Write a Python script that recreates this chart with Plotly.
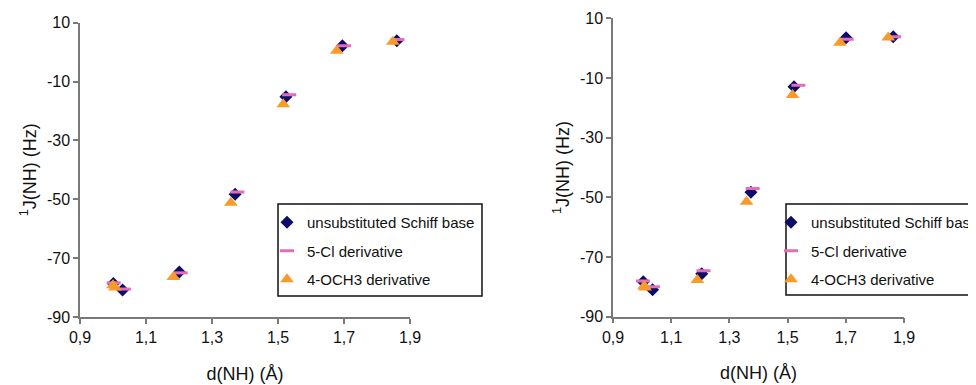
import plotly.graph_objects as go

# ---- data ----
series_names = ["unsubstituted Schiff base", "5-Cl derivative", "4-OCH3 derivative"]

# left panel
left_unsub_x = [1.001, 1.029, 1.201, 1.370, 1.524, 1.695, 1.860]
left_unsub_y = [-78.6, -80.8, -74.7, -48.3, -15.2, 2.2, 3.9]
left_cl_x = [1.002, 1.033, 1.205, 1.377, 1.534, 1.700, 1.862]
left_cl_y = [-78.4, -80.5, -75.0, -47.5, -14.5, 2.2, 4.3]
left_och3_x = [1.000, 1.006, 1.183, 1.357, 1.516, 1.678, 1.848]
left_och3_y = [-79.2, -80.0, -76.4, -51.2, -17.7, 0.5, 3.5]

# right panel
right_unsub_x = [1.004, 1.036, 1.205, 1.374, 1.522, 1.701, 1.863]
right_unsub_y = [-78.3, -81.0, -75.6, -48.3, -12.9, 3.5, 3.8]
right_cl_x = [1.003, 1.037, 1.211, 1.380, 1.537, 1.703, 1.866]
right_cl_y = [-78.0, -80.0, -74.6, -47.0, -12.4, 3.0, 3.8]
right_och3_x = [1.007, 1.010, 1.190, 1.359, 1.517, 1.680, 1.846]
right_och3_y = [-79.7, -80.2, -77.7, -51.5, -15.7, 1.8, 3.6]

x_ticks = [0.9, 1.1, 1.3, 1.5, 1.7, 1.9]
x_tick_labels = ["0,9", "1,1", "1,3", "1,5", "1,7", "1,9"]
y_ticks = [10, -10, -30, -50, -70, -90]
y_tick_labels = ["10", "-10", "-30", "-50", "-70", "-90"]

# ---- styles ----
FONT = "Arial, 'Liberation Sans', sans-serif"
NAVY = "#0c0c6a"
PINK = "#e46cb8"
ORANGE = "#f99b2a"

styles = [
    dict(symbol="diamond", size=10, color=NAVY, line=dict(width=0)),
    dict(symbol="line-ew", size=10, color=PINK, line=dict(width=3, color=PINK)),
    dict(symbol="triangle-up", size=12, color=ORANGE, line=dict(width=0)),
]

fig = go.Figure()

panels = [
    ("x", "y", "legend", [(left_unsub_x, left_unsub_y), (left_cl_x, left_cl_y), (left_och3_x, left_och3_y)]),
    ("x2", "y2", "legend2", [(right_unsub_x, right_unsub_y), (right_cl_x, right_cl_y), (right_och3_x, right_och3_y)]),
]
for xa, ya, lg, data in panels:
    for i, (xs, ys) in enumerate(data):
        fig.add_trace(go.Scatter(
            x=xs, y=ys, mode="markers", name=series_names[i],
            marker=styles[i], xaxis=xa, yaxis=ya, legend=lg,
            legendgroup=f"{lg}_{i}",
        ))

W, H = 976, 385
OFF = 8  # page body margin shifts the figure by 8px

def px_x(a):
    return (a - OFF) / W

def px_y(a):
    return (H - (a - OFF)) / H

def xdom(a, b):
    return [px_x(a), px_x(b)]

def ydom(top, bottom):
    return [px_y(bottom), px_y(top)]

axis_common = dict(
    showline=True, linecolor="#7a7a7a", linewidth=1.5,
    ticks="outside", ticklen=5, tickcolor="#7a7a7a", tickwidth=1.5,
    showgrid=False, zeroline=False,
    tickfont=dict(family=FONT, size=16, color="#111"),
)

xaxis_common = dict(axis_common, range=[0.9, 1.9], tickvals=x_ticks, ticktext=x_tick_labels,
                    title=dict(text="d(NH) (Å)", font=dict(family=FONT, size=18, color="#111"), standoff=22))
yaxis_common = dict(axis_common, range=[-90, 10], tickvals=y_ticks, ticktext=y_tick_labels,
                    title=dict(text="<sup>1</sup>J(NH) (Hz)", font=dict(family=FONT, size=18, color="#111"), standoff=6))

legend_common = dict(
    font=dict(family=FONT, size=15, color="#111"),
    bgcolor="rgba(0,0,0,0)", borderwidth=0,
    xanchor="left", yanchor="top", tracegroupgap=6,
)

# legend frames
frames = [
    dict(type="rect", xref="paper", yref="paper",
         x0=px_x(278), x1=px_x(482), y0=px_y(296), y1=px_y(204),
         line=dict(color="#111", width=1.5), fillcolor="white", layer="above"),
    dict(type="rect", xref="paper", yref="paper",
         x0=px_x(786), x1=px_x(1010), y0=px_y(295), y1=px_y(204),
         line=dict(color="#111", width=1.5), fillcolor="white", layer="above"),
]

fig.update_layout(
    width=W, height=H,
    margin=dict(l=0, r=0, t=0, b=0, autoexpand=False),
    paper_bgcolor="white", plot_bgcolor="white",
    xaxis=dict(xaxis_common, domain=xdom(80, 410), anchor="y"),
    yaxis=dict(yaxis_common, domain=ydom(22.7, 317), anchor="x"),
    xaxis2=dict(xaxis_common, domain=xdom(613, 904), anchor="y2"),
    yaxis2=dict(yaxis_common, domain=ydom(18.3, 316.7), anchor="x2"),
    legend=dict(legend_common, x=px_x(267), y=px_y(206)),
    legend2=dict(legend_common, x=px_x(771), y=px_y(206)),
    shapes=frames,
    showlegend=True,
)

fig.write_html("out.html")
